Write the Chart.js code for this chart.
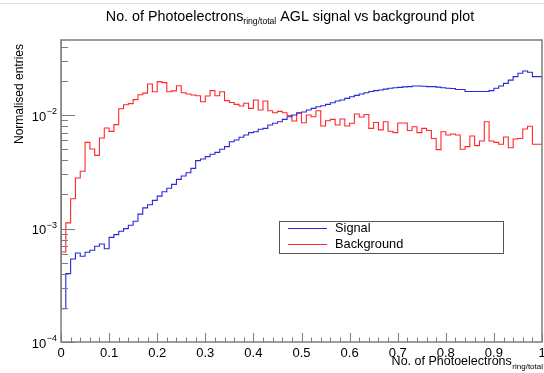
<!DOCTYPE html>
<html>
<head>
<meta charset="utf-8">
<script src="https://cdn.jsdelivr.net/npm/chart.js@4.4.1/dist/chart.umd.min.js"></script>
<style>
  html, body { margin: 0; padding: 0; background: #ffffff; }
  #wrap { width: 544px; height: 373px; position: relative; }
</style>
</head>
<body>
<div id="wrap"><canvas id="c" width="544" height="373"></canvas></div>
<script>
// Histogram binning: 100 equal bins between 0 and 1
const nBins = 100;
const xRange = [0, 1];
const yRange = [1e-4, 0.0458];

// Normalised entries per bin (bin 0 .. bin 99)
const signal = [
  6.94e-3, 1.97e-4, 4.0e-4, 5.39e-4, 6.08e-4, 5.69e-4, 6.17e-4, 6.43e-4, 6.97e-4, 7.30e-4,
  6.64e-4, 8.36e-4, 8.83e-4, 9.45e-4, 9.97e-4, 1.067e-3, 1.157e-3, 1.34e-3, 1.52e-3, 1.62e-3,
  1.77e-3, 1.93e-3, 2.11e-3, 2.26e-3, 2.45e-3, 2.71e-3, 2.90e-3, 3.10e-3, 3.39e-3, 3.96e-3,
  4.10e-3, 4.30e-3, 4.51e-3, 4.69e-3, 4.99e-3, 5.26e-3, 5.82e-3, 6.02e-3, 6.36e-3, 6.67e-3,
  7.0e-3, 7.13e-3, 7.48e-3, 7.63e-3, 8.16e-3, 8.45e-3, 8.73e-3, 9.16e-3, 9.66e-3, 1.0e-2,
  1.047e-2, 1.062e-2, 1.107e-2, 1.145e-2, 1.184e-2, 1.208e-2, 1.24e-2, 1.283e-2, 1.328e-2, 1.355e-2,
  1.40e-2, 1.45e-2, 1.49e-2, 1.53e-2, 1.57e-2, 1.61e-2, 1.64e-2, 1.66e-2, 1.69e-2, 1.72e-2,
  1.74e-2, 1.75e-2, 1.77e-2, 1.78e-2, 1.80e-2, 1.80e-2, 1.79e-2, 1.78e-2, 1.78e-2, 1.76e-2,
  1.74e-2, 1.72e-2, 1.71e-2, 1.68e-2, 1.68e-2, 1.61e-2, 1.61e-2, 1.61e-2, 1.61e-2, 1.61e-2,
  1.64e-2, 1.72e-2, 1.80e-2, 1.90e-2, 2.03e-2, 2.18e-2, 2.33e-2, 2.44e-2, 2.38e-2, 2.18e-2
];

const background = [
  5.0e-2, 6.2e-4, 1.12e-3, 1.83e-3, 2.79e-3, 3.19e-3, 5.74e-3, 5.01e-3, 4.41e-3, 6.27e-3,
  7.68e-3, 7.18e-3, 8.22e-3, 1.137e-2, 1.233e-2, 1.259e-2, 1.365e-2, 1.51e-2, 1.56e-2, 1.875e-2,
  1.605e-2, 1.97e-2, 1.93e-2, 1.605e-2, 1.63e-2, 1.81e-2, 1.57e-2, 1.53e-2, 1.50e-2, 1.48e-2,
  1.31e-2, 1.47e-2, 1.64e-2, 1.48e-2, 1.605e-2, 1.34e-2, 1.29e-2, 1.24e-2, 1.20e-2, 1.27e-2,
  1.145e-2, 1.355e-2, 1.107e-2, 1.33e-2, 1.09e-2, 1.047e-2, 1.077e-2, 1.047e-2, 9.9e-3, 8.85e-3,
  1.035e-2, 8.55e-3, 1.0e-2, 9.66e-3, 1.09e-2, 8.0e-3, 8.91e-3, 9.16e-3, 8.16e-3, 9.22e-3,
  8.0e-3, 8.45e-3, 1.02e-2, 9.6e-3, 1.01e-2, 7.63e-3, 8.6e-3, 7.4e-3, 8.73e-3, 7.2e-3,
  7.0e-3, 8.5e-3, 8.5e-3, 7.3e-3, 7.89e-3, 7.0e-3, 7.63e-3, 7.3e-3, 6.2e-3, 4.95e-3,
  7.13e-3, 6.67e-3, 6.8e-3, 6.67e-3, 4.99e-3, 5.26e-3, 6.53e-3, 5.37e-3, 5.90e-3, 8.73e-3,
  5.90e-3, 5.74e-3, 5.52e-3, 6.40e-3, 5.15e-3, 6.15e-3, 6.2e-3, 7.53e-3, 7.95e-3, 5.52e-3
];

const xTickLabels = ['0', '0.1', '0.2', '0.3', '0.4', '0.5', '0.6', '0.7', '0.8', '0.9', '1'];
const yDecadeExponents = [-4, -3, -2];

const titleParts = ['No. of Photoelectrons', 'ring/total', ' AGL signal vs background plot'];
const xTitleParts = ['No. of Photoelectrons', 'ring/total'];
const yTitle = 'Normalised entries';

const FONT = '"Liberation Sans", Arial, Helvetica, sans-serif';
const AXIS_COLOR = '#7c7c7c';

// Outline points: one point at each bin's lower edge plus the upper edge of the last bin
function histPoints(values) {
  const w = (xRange[1] - xRange[0]) / nBins;
  const pts = values.map((v, i) => ({ x: xRange[0] + i * w, y: v }));
  pts.push({ x: xRange[1], y: values[values.length - 1] });
  return pts;
}

// ROOT-style frame, inward ticks, labels, titles and boxed legend
const rootStyle = {
  id: 'rootStyle',
  afterDraw(chart) {
    const ctx = chart.ctx;
    const a = chart.chartArea;
    const xs = chart.scales.x, ys = chart.scales.y;
    ctx.save();

    // faint page edge at the top
    ctx.strokeStyle = '#e2e2e2';
    ctx.lineWidth = 1;
    ctx.beginPath(); ctx.moveTo(0, 3.5); ctx.lineTo(544, 3.5); ctx.stroke();

    // frame
    ctx.strokeStyle = AXIS_COLOR;
    ctx.lineWidth = 1.5;
    ctx.strokeRect(a.left, a.top, a.right - a.left, a.bottom - a.top);

    // y ticks (log): majors at decades, minors at 2..9
    ctx.lineWidth = 1;
    ctx.beginPath();
    const yMajLen = 14, yMinLen = 7;
    for (const e of yDecadeExponents) {
      for (let m = 1; m <= 9; m++) {
        const v = m * Math.pow(10, e);
        if (v < yRange[0] * 0.999 || v > yRange[1]) continue;
        const py = Math.round(ys.getPixelForValue(v)) + 0.5;
        ctx.moveTo(a.left, py);
        ctx.lineTo(a.left + (m === 1 ? yMajLen : yMinLen), py);
      }
    }
    // x ticks: majors every 0.1, minors every 0.02
    const xMajLen = 9, xMinLen = 4.5;
    for (let k = 0; k <= 50; k++) {
      const v = xRange[0] + k * 0.02;
      const px = Math.round(xs.getPixelForValue(v)) + 0.5;
      ctx.moveTo(px, a.bottom);
      ctx.lineTo(px, a.bottom - (k % 5 === 0 ? xMajLen : xMinLen));
    }
    ctx.stroke();

    ctx.fillStyle = '#000';

    // x tick labels
    ctx.font = '13px ' + FONT;
    ctx.textAlign = 'center';
    ctx.textBaseline = 'alphabetic';
    xTickLabels.forEach((lab, i) => {
      const v = xRange[0] + i * (xRange[1] - xRange[0]) / (xTickLabels.length - 1);
      ctx.fillText(lab, xs.getPixelForValue(v), 356.5);
    });

    // y tick labels: 10 with superscript exponent
    for (const e of yDecadeExponents) {
      const py = ys.getPixelForValue(Math.pow(10, e));
      ctx.font = '9px ' + FONT;
      ctx.textAlign = 'right';
      const expTxt = '\u2212' + Math.abs(e);
      ctx.fillText(expTxt, 57, py - 1);
      const ew = ctx.measureText(expTxt).width;
      ctx.font = '13px ' + FONT;
      ctx.fillText('10', 57 - ew - 0.5, py + 5.5);
    }

    // axis title (x), right aligned at the frame edge, with subscript
    ctx.textAlign = 'left';
    ctx.font = '8px ' + FONT;
    const xSubW = ctx.measureText(xTitleParts[1]).width;
    ctx.font = '12.5px ' + FONT;
    const xMainW = ctx.measureText(xTitleParts[0]).width;
    const xStart = a.right + 1 - xSubW - xMainW - 0.5;
    ctx.fillText(xTitleParts[0], xStart, 365);
    ctx.font = '8px ' + FONT;
    ctx.fillText(xTitleParts[1], xStart + xMainW + 0.5, 368.5);

    // axis title (y), rotated, right aligned at the top
    ctx.save();
    ctx.translate(23, 44);
    ctx.rotate(-Math.PI / 2);
    ctx.font = '12px ' + FONT;
    ctx.textAlign = 'right';
    ctx.fillText(yTitle, 0, 0);
    ctx.restore();

    // main title, centred with subscript
    ctx.textAlign = 'left';
    ctx.font = '14.3px ' + FONT;
    const t0 = ctx.measureText(titleParts[0]).width;
    const t2 = ctx.measureText(titleParts[2]).width;
    ctx.font = '8.6px ' + FONT;
    const t1 = ctx.measureText(titleParts[1]).width;
    const total = t0 + t1 + t2;
    let tx = 290 - total / 2;
    ctx.font = '14.3px ' + FONT;
    ctx.fillText(titleParts[0], tx, 20.5);
    ctx.font = '8.6px ' + FONT;
    ctx.fillText(titleParts[1], tx + t0, 23.5);
    ctx.font = '14.3px ' + FONT;
    ctx.fillText(titleParts[2], tx + t0 + t1, 20.5);

    // legend box
    const box = { x: 279.5, y: 221.5, w: 224, h: 32 };
    ctx.fillStyle = '#fff';
    ctx.fillRect(box.x, box.y, box.w, box.h);
    ctx.strokeStyle = '#555';
    ctx.lineWidth = 1;
    ctx.strokeRect(box.x, box.y, box.w, box.h);
    const rows = [228.5, 244.5];
    chart.data.datasets.forEach((ds, i) => {
      const ry = rows[i];
      ctx.strokeStyle = ds.borderColor;
      ctx.lineWidth = 1;
      ctx.beginPath();
      ctx.moveTo(288, ry); ctx.lineTo(327, ry);
      ctx.stroke();
      ctx.fillStyle = '#000';
      ctx.font = '12.8px ' + FONT;
      ctx.textAlign = 'left';
      ctx.textBaseline = 'middle';
      ctx.fillText(ds.label, 335, ry);
    });

    ctx.restore();
  }
};

new Chart(document.getElementById('c'), {
  type: 'line',
  data: {
    datasets: [
      {
        label: 'Signal',
        data: histPoints(signal),
        borderColor: 'rgb(40,40,215)',
        borderWidth: 1.1,
        stepped: 'after',
        pointRadius: 0,
        fill: false
      },
      {
        label: 'Background',
        data: histPoints(background),
        borderColor: 'rgb(255,40,40)',
        borderWidth: 1.1,
        stepped: 'after',
        pointRadius: 0,
        fill: false
      }
    ]
  },
  options: {
    responsive: false,
    animation: false,
    devicePixelRatio: 1,
    layout: { padding: { left: 61, right: 2, top: 40, bottom: 31 } },
    plugins: {
      legend: { display: false },
      tooltip: { enabled: false },
      title: { display: false }
    },
    scales: {
      x: { type: 'linear', min: xRange[0], max: xRange[1], display: false },
      y: { type: 'logarithmic', min: yRange[0], max: yRange[1], display: false }
    }
  },
  plugins: [rootStyle]
});
</script>
</body>
</html>
